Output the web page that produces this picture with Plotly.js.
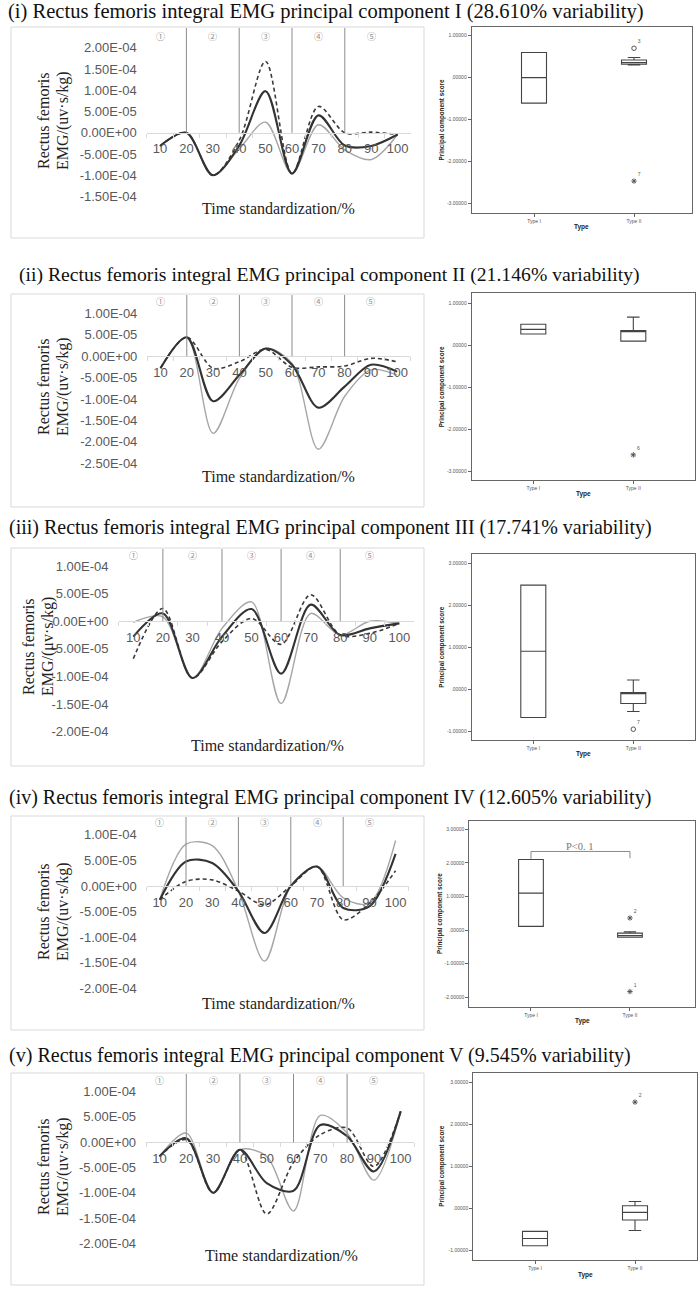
<!DOCTYPE html>
<html><head><meta charset="utf-8">
<script src="https://cdn.plot.ly/plotly-3.0.1.min.js"></script>
<style>html,body{margin:0;padding:0;background:#fff}#chart{width:699px;height:1290px}</style>
</head><body><div id="chart"></div>
<script>
// ---------------- DATA ----------------
const categories = ['10','20','30','40','50','60','70','80','90','100'];
const phaseBounds = ['20','40','60','80'];
const phaseLabels = ['①','②','③','④','⑤'];
const phaseLabelAt = ['10','30','50','70','90'];

const titles = [
  '(i) Rectus femoris integral EMG principal component I (28.610% variability)',
  '(ii) Rectus femoris integral EMG principal component II (21.146% variability)',
  '(iii) Rectus femoris integral EMG principal component III (17.741% variability)',
  '(iv) Rectus femoris integral EMG principal component IV (12.605% variability)',
  '(v) Rectus femoris integral EMG principal component V (9.545% variability)'
];
const yTitleLine1 = 'Rectus femoris';
const yTitleLine2 = ['EMG/(uv·s/kg)','EMG/(uv·s/kg)','EMG/(μv·s/kg)','EMG/(uv·s/kg)','EMG/(uv·s/kg)'];
const xTitleText = 'Time standardization/%';
const boxYTitle = 'Principal component score';
const boxXTitle = 'Type';

// line series (solid = mean, dashed, gray)
const p1Solid  = [-3.1e-5, 0, -1.0e-4, -3.0e-5, 9.8e-5, -9.6e-5, 4.1e-5, -3.0e-5, -3.1e-5, -4e-6];
const p1Dashed = [-3.1e-5, 0, -1.0e-4, -1.8e-5, 1.68e-4, -9.6e-5, 6.2e-5, 0, 1.5e-6, -4e-6];
const p1Gray   = [-3.1e-5, 0, -1.0e-4, -3.8e-5, 2.5e-5, -9.6e-5, 1.9e-5, -4.0e-5, -6.3e-5, -4e-6];

const p2Solid  = [-2.8e-5, 4.4e-5, -1.05e-4, -4.4e-5, 1.8e-5, -2.0e-5, -1.2e-4, -7.1e-5, -2.0e-5, -3.6e-5];
const p2Dashed = [-2.8e-5, 4.4e-5, -2.8e-5, -1.3e-5, 1.6e-5, -2.6e-5, -2.5e-5, -2.3e-5, -5e-6, -1.3e-5];
const p2Gray   = [-2.8e-5, 4.4e-5, -1.8e-4, -5.2e-5, 1.8e-5, -1.7e-5, -2.17e-4, -9.4e-5, -3.2e-5, -4.4e-5];

const p3Solid  = [-2.8e-5, 1.4e-5, -1.03e-4, -2.8e-5, 2.2e-5, -9.5e-5, 3.0e-5, -2.5e-5, -1.3e-5, -4e-6];
const p3Dashed = [-6.8e-5, 2.3e-5, -1.03e-4, -3.7e-5, 5e-6, -4.2e-5, 4.8e-5, -2.5e-5, -2.2e-5, -4e-6];
const p3Gray   = [-2e-6, 8e-6, -1.03e-4, -1.3e-5, 3.5e-5, -1.49e-4, 1.4e-5, -2.5e-5, 0, -4e-6];

const p4Solid  = [-2.7e-5, 4.8e-5, 4.5e-5, -1e-5, -9.2e-5, 0, 3.8e-5, -4.3e-5, -4.0e-5, 6.3e-5];
const p4Dashed = [-2.7e-5, 9e-6, 1.2e-5, -1e-5, -3.7e-5, 0, 3.8e-5, -6.6e-5, -3.4e-5, 3.0e-5];
const p4Gray   = [-2.7e-5, 8.2e-5, 7.9e-5, -1e-5, -1.47e-4, 0, 3.8e-5, -2.3e-5, -3.4e-5, 8.9e-5];

const p5Solid  = [-2.8e-5, 8e-6, -1.0e-4, -1.5e-5, -8.1e-5, -9.6e-5, 3.4e-5, 1.2e-5, -5.8e-5, 6.1e-5];
const p5Dashed = [-2.8e-5, 5e-6, -1.0e-4, -1.5e-5, -1.42e-4, -4.0e-5, 1.5e-5, 2.8e-5, -4.8e-5, 6.1e-5];
const p5Gray   = [-2.8e-5, 1.8e-5, -1.0e-4, -1.5e-5, -2.8e-5, -1.36e-4, 5.3e-5, 1.8e-5, -7.5e-5, 6.1e-5];

const p1YTicks = [2e-4, 1.5e-4, 1e-4, 5e-5, 0, -5e-5, -1e-4, -1.5e-4];
const p2YTicks = [1e-4, 5e-5, 0, -5e-5, -1e-4, -1.5e-4, -2e-4, -2.5e-4];
const p3YTicks = [1e-4, 5e-5, 0, -5e-5, -1e-4, -1.5e-4, -2e-4];
const p4YTicks = [1e-4, 5e-5, 0, -5e-5, -1e-4, -1.5e-4, -2e-4];
const p5YTicks = [1e-4, 5e-5, 0, -5e-5, -1e-4, -1.5e-4, -2e-4];

// box plots
const boxCats = ['Type I', 'Type II'];
const p1BoxQ1 = [-0.61, 0.32], p1BoxMed = [0.0, 0.36], p1BoxQ3 = [0.60, 0.42], p1BoxLo = [-0.61, 0.30], p1BoxHi = [0.60, 0.48];
const p2BoxQ1 = [0.27, 0.10], p2BoxMed = [0.38, 0.33], p2BoxQ3 = [0.50, 0.35], p2BoxLo = [0.27, 0.10], p2BoxHi = [0.50, 0.67];
const p3BoxQ1 = [-0.67, -0.34], p3BoxMed = [0.905, -0.10], p3BoxQ3 = [2.48, -0.08], p3BoxLo = [-0.67, -0.53], p3BoxHi = [2.48, 0.22];
const p4BoxQ1 = [0.11, -0.21], p4BoxMed = [1.10, -0.16], p4BoxQ3 = [2.10, -0.09], p4BoxLo = [0.11, -0.21], p4BoxHi = [2.10, -0.05];
const p5BoxQ1 = [-0.88, -0.27], p5BoxMed = [-0.71, -0.09], p5BoxQ3 = [-0.54, 0.07], p5BoxLo = [-0.88, -0.52], p5BoxHi = [-0.54, 0.17];

const p1OutX = ['Type II','Type II'], p1OutY = [0.70, -2.47], p1OutLbl = ['3','7'], p1OutSym = ['circle-open','asterisk-open'];
const p2OutX = ['Type II'], p2OutY = [-2.61], p2OutLbl = ['6'], p2OutSym = ['asterisk-open'];
const p3OutX = ['Type II'], p3OutY = [-0.95], p3OutLbl = ['7'], p3OutSym = ['circle-open'];
const p4OutX = ['Type II','Type II'], p4OutY = [0.36, -1.83], p4OutLbl = ['2','1'], p4OutSym = ['asterisk-open','asterisk-open'];
const p5OutX = ['Type II'], p5OutY = [2.53], p5OutLbl = ['2'], p5OutSym = ['asterisk-open'];

const p1BoxTicks = [1, 0, -1, -2, -3];
const p2BoxTicks = [1, 0, -1, -2, -3];
const p3BoxTicks = [3, 2, 1, 0, -1];
const p4BoxTicks = [3, 2, 1, 0, -1, -2];
const p5BoxTicks = [3, 2, 1, 0, -1];

const sigText = 'P<0. 1';
const sigPair = ['Type I', 'Type II'];

// ---------------- LAYOUT GEOMETRY ----------------
const W = 699, H = 1290;
const fx = p => p / W;
const fy = p => 1 - p / H;
const SERIF = '"Liberation Serif", "Times New Roman", serif';
const SANS = '"Liberation Sans", Arial, sans-serif';

const lineGeo = [
  {frame:[11,424,27,238],   zero:132.8, unit:21.24, cat0:160,   step:26.4,  titleX:6,  titleR:642, titleY:12,   xTitleX:278,   xTitleY:208,    yTitleX:[43,63], yTitleY:121,  circY:36},
  {frame:[11,424,294,507],  zero:356.2, unit:21.43, cat0:160.5, step:26.3,  titleX:17, titleR:638, titleY:275,  xTitleX:278.5, xTitleY:476,    yTitleX:[43,63], yTitleY:387,  circY:301.7},
  {frame:[11,424,548,766],  zero:621.2, unit:27.6,  cat0:133.3, step:29.56, titleX:7,  titleR:650, titleY:527,  xTitleX:267,   xTitleY:745,    yTitleX:[28,48], yTitleY:647,  circY:555.7},
  {frame:[11,424,816,1030], zero:886,   unit:25.55, cat0:159.8, step:26.2,  titleX:7,  titleR:650, titleY:797,  xTitleX:278,   xTitleY:1003,   yTitleX:[43,63], yTitleY:912,  circY:822.3},
  {frame:[11,424,1073,1285],zero:1142.2,unit:25.27, cat0:159.5, step:26.8,  titleX:7,  titleR:630, titleY:1055, xTitleX:281,   xTitleY:1255.7, yTitleX:[43,63], yTitleY:1167, circY:1080.7}
];
const boxGeo = [
  {dom:[471.7,691.7,26.7,212.7],  yr:[-3.224,1.214], xr:[-0.623,1.577], yTitleX:441.7, typeY:226.7},
  {dom:[471.7,695,293.3,480],     yr:[-3.207,1.238], xr:[-0.616,1.617], yTitleX:441.7, typeY:494.3},
  {dom:[471.7,695,554,740],       yr:[-1.207,3.22],  xr:[-0.616,1.617], yTitleX:441.7, typeY:754},
  {dom:[469.3,695,820.7,1007.3],  yr:[-2.298,3.256], xr:[-0.623,1.657], yTitleX:440,   typeY:1021},
  {dom:[473.3,696.7,1073.3,1260], yr:[-1.22,3.214],  xr:[-0.617,1.617], yTitleX:442,   typeY:1275}
];

const lineSeries = [
  [p1Solid,p1Dashed,p1Gray],[p2Solid,p2Dashed,p2Gray],[p3Solid,p3Dashed,p3Gray],
  [p4Solid,p4Dashed,p4Gray],[p5Solid,p5Dashed,p5Gray]
];
const lineTicks = [p1YTicks,p2YTicks,p3YTicks,p4YTicks,p5YTicks];
const boxStats = [
  [p1BoxQ1,p1BoxMed,p1BoxQ3,p1BoxLo,p1BoxHi],[p2BoxQ1,p2BoxMed,p2BoxQ3,p2BoxLo,p2BoxHi],
  [p3BoxQ1,p3BoxMed,p3BoxQ3,p3BoxLo,p3BoxHi],[p4BoxQ1,p4BoxMed,p4BoxQ3,p4BoxLo,p4BoxHi],
  [p5BoxQ1,p5BoxMed,p5BoxQ3,p5BoxLo,p5BoxHi]
];
const boxOut = [
  [p1OutX,p1OutY,p1OutLbl,p1OutSym],[p2OutX,p2OutY,p2OutLbl,p2OutSym],[p3OutX,p3OutY,p3OutLbl,p3OutSym],
  [p4OutX,p4OutY,p4OutLbl,p4OutSym],[p5OutX,p5OutY,p5OutLbl,p5OutSym]
];
const boxTicks = [p1BoxTicks,p2BoxTicks,p3BoxTicks,p4BoxTicks,p5BoxTicks];

function sci(v) {
  if (v === 0) return '0.00E+00';
  const parts = v.toExponential(2).split('e');
  const e = parseInt(parts[1], 10);
  const d = Math.abs(e);
  return parts[0] + 'E' + (e < 0 ? '-' : '+') + (d < 10 ? '0' + d : d);
}
function spss(v) { return v === 0 ? '.00000' : v.toFixed(5); }

const cnv = document.createElement('canvas').getContext('2d');
function fitSize(text, family, width) {
  cnv.font = '100px ' + family;
  return 100 * width / cnv.measureText(text).width;
}

const traces = [];
const layout = {
  width: W, height: H, margin: {l:0, r:0, t:0, b:0},
  paper_bgcolor: '#fff', plot_bgcolor: 'rgba(0,0,0,0)', showlegend: false,
  font: {family: SANS, color: '#333'},
  shapes: [], annotations: []
};

for (let i = 0; i < 5; i++) {
  const g = lineGeo[i], b = boxGeo[i];
  const ln = 2 * i + 1, bn = 2 * i + 2;
  const lx = 'x' + ln, ly = 'y' + ln, bx = 'x' + bn, by = 'y' + bn;
  const ticks = lineTicks[i];
  const yTop = Math.max(...ticks), yBot = Math.min(...ticks);
  const pad = 0.15 * 5e-5;
  const pix = v => g.zero - v / 5e-5 * g.unit;

  // frame
  layout.shapes.push({type:'rect', xref:'paper', yref:'paper',
    x0: fx(g.frame[0]), x1: fx(g.frame[1]), y0: fy(g.frame[3]), y1: fy(g.frame[2]),
    line:{color:'#d9d9d9', width:1}, layer:'below'});

  // line axes
  layout['xaxis' + ln] = {
    type:'category', categoryorder:'array', categoryarray: categories,
    domain:[fx(g.cat0 - g.step/2), fx(g.cat0 + 9.5*g.step)], range:[-0.5, 9.5],
    anchor:'free', position: fy(g.zero),
    showline:true, linecolor:'#d9d9d9', linewidth:1,
    ticks:'outside', tickson:'boundaries', ticklen:4, tickcolor:'#d9d9d9', tickangle:0,
    tickfont:{family:SANS, size:13, color:'#595959'}, ticklabelstandoff: 4,
    showgrid:false, zeroline:false, fixedrange:true
  };
  layout['yaxis' + ln] = {
    domain:[fy(pix(yBot - pad)), fy(pix(yTop + pad))], range:[yBot - pad, yTop + pad],
    anchor: lx, tickvals: ticks, ticktext: ticks.map(sci),
    tickfont:{family:SANS, size:13, color:'#595959'}, ticks:'', ticklabelstandoff: 9,
    showgrid:false, zeroline:false, showline:false, fixedrange:true
  };

  const [solid, dashed, gray] = lineSeries[i];
  traces.push({type:'scatter', mode:'lines', x:categories, y:gray, xaxis:lx, yaxis:ly,
    line:{color:'#a6a6a6', width:1.4, shape:'spline', smoothing:0.9}, hoverinfo:'skip'});
  traces.push({type:'scatter', mode:'lines', x:categories, y:dashed, xaxis:lx, yaxis:ly,
    line:{color:'#3a3a3a', width:1.6, dash:'4px,3px', shape:'spline', smoothing:0.9}, hoverinfo:'skip'});
  traces.push({type:'scatter', mode:'lines', x:categories, y:solid, xaxis:lx, yaxis:ly,
    line:{color:'#333333', width:2.1, shape:'spline', smoothing:0.9}, hoverinfo:'skip'});

  // phase separators
  phaseBounds.forEach(c => {
    const idx = categories.indexOf(c);
    layout.shapes.push({type:'line', xref:lx, yref:'paper', x0:idx, x1:idx,
      y0: fy(g.zero), y1: fy(g.frame[2] + 1), line:{color:'#8c8c8c', width:1}});
  });
  phaseLabels.forEach((t, k) => {
    layout.annotations.push({xref:lx, yref:'paper', x: categories.indexOf(phaseLabelAt[k]), y: fy(g.circY),
      text:t, showarrow:false, font:{family:'"Noto Sans CJK SC", "DejaVu Sans", sans-serif', size:9, color:'#8f8f8f'},
      xanchor:'center', yanchor:'middle'});
  });

  // titles
  const tSize = fitSize(titles[i], SERIF, g.titleR - g.titleX);
  layout.annotations.push({xref:'paper', yref:'paper', x: fx(g.titleX), y: fy(g.titleY),
    text: titles[i], showarrow:false, xanchor:'left', yanchor:'middle',
    font:{family:SERIF, size:tSize, color:'#111'}});
  layout.annotations.push({xref:'paper', yref:'paper', x: fx(g.xTitleX), y: fy(g.xTitleY),
    text: xTitleText, showarrow:false, xanchor:'center', yanchor:'middle',
    font:{family:SERIF, size:16, color:'#222'}});
  layout.annotations.push({xref:'paper', yref:'paper', x: fx(g.yTitleX[0]), y: fy(g.yTitleY),
    text: yTitleLine1, showarrow:false, textangle:-90, xanchor:'center', yanchor:'middle',
    font:{family:SERIF, size:16, color:'#222'}});
  layout.annotations.push({xref:'paper', yref:'paper', x: fx(g.yTitleX[1]), y: fy(g.yTitleY),
    text: yTitleLine2[i], showarrow:false, textangle:-90, xanchor:'center', yanchor:'middle',
    font:{family:SERIF, size:16, color:'#222'}});

  // box axes
  layout['xaxis' + bn] = {
    type:'category', categoryorder:'array', categoryarray: boxCats,
    domain:[fx(b.dom[0]), fx(b.dom[1])], range: b.xr, anchor: by,
    showline:true, mirror:true, linecolor:'#666', linewidth:1,
    ticks:'outside', ticklen:3, tickcolor:'#666', tickangle:0, tickfont:{family:SANS, size:5, color:'#555'},
    showgrid:false, zeroline:false, fixedrange:true
  };
  layout['yaxis' + bn] = {
    domain:[fy(b.dom[3]), fy(b.dom[2])], range: b.yr, anchor: bx,
    showline:true, mirror:true, linecolor:'#666', linewidth:1,
    ticks:'outside', ticklen:3, tickcolor:'#666', tickvals: boxTicks[i], ticktext: boxTicks[i].map(spss),
    tickfont:{family:SANS, size:5, color:'#555'}, showgrid:false, zeroline:false, fixedrange:true
  };
  const [q1, med, q3, lo, hi] = boxStats[i];
  traces.push({type:'box', x: boxCats, q1, median: med, q3, lowerfence: lo, upperfence: hi,
    xaxis: bx, yaxis: by, width: 0.25, whiskerwidth: 0.5, boxpoints: false,
    fillcolor:'rgba(0,0,0,0)', line:{color:'#444', width:1.1}, hoverinfo:'skip'});
  const [ox, oy, ol, os] = boxOut[i];
  traces.push({type:'scatter', mode:'markers+text', x: ox, y: oy, text: ol, xaxis: bx, yaxis: by,
    textposition:'top right', textfont:{family:SANS, size:5, color:'#555'},
    marker:{symbol: os, size:4.5, color:'#555', line:{width:1, color:'#555'}}, hoverinfo:'skip'});

  layout.annotations.push({xref:'paper', yref:'paper', x: fx(b.yTitleX), y: fy((b.dom[2]+b.dom[3])/2),
    text: '<b>' + boxYTitle + '</b>', showarrow:false, textangle:-90, xanchor:'center', yanchor:'middle',
    font:{family:SANS, size:6.3, color:'#222'}});
  layout.annotations.push({xref:'paper', yref:'paper', x: fx((b.dom[0]+b.dom[1])/2), y: fy(b.typeY),
    text: '<b>' + boxXTitle + '</b>', showarrow:false, xanchor:'center', yanchor:'middle',
    font:{family:SANS, size:6.5, color:'#222'}});
}

// significance bracket on panel iv
{
  const bx = 'x8', by = 'y8';
  const i0 = boxCats.indexOf(sigPair[0]), i1 = boxCats.indexOf(sigPair[1]);
  const top = 2.34, leftEnd = 2.12, rightEnd = 2.14;
  const st = {color:'#8a8a8a', width:1};
  layout.shapes.push({type:'line', xref:bx, yref:by, x0:i0, x1:i0, y0:leftEnd, y1:top, line:st});
  layout.shapes.push({type:'line', xref:bx, yref:by, x0:i0, x1:i1, y0:top, y1:top, line:st});
  layout.shapes.push({type:'line', xref:bx, yref:by, x0:i1, x1:i1, y0:rightEnd, y1:top, line:st});
  layout.annotations.push({xref:bx, yref:by, x:(i0+i1)/2, y:2.5, text:sigText, showarrow:false,
    xanchor:'center', yanchor:'middle', font:{family:SERIF, size:10.5, color:'#777'}});
}

Plotly.newPlot('chart', traces, layout, {staticPlot:true, displayModeBar:false});
</script>
</body></html>
